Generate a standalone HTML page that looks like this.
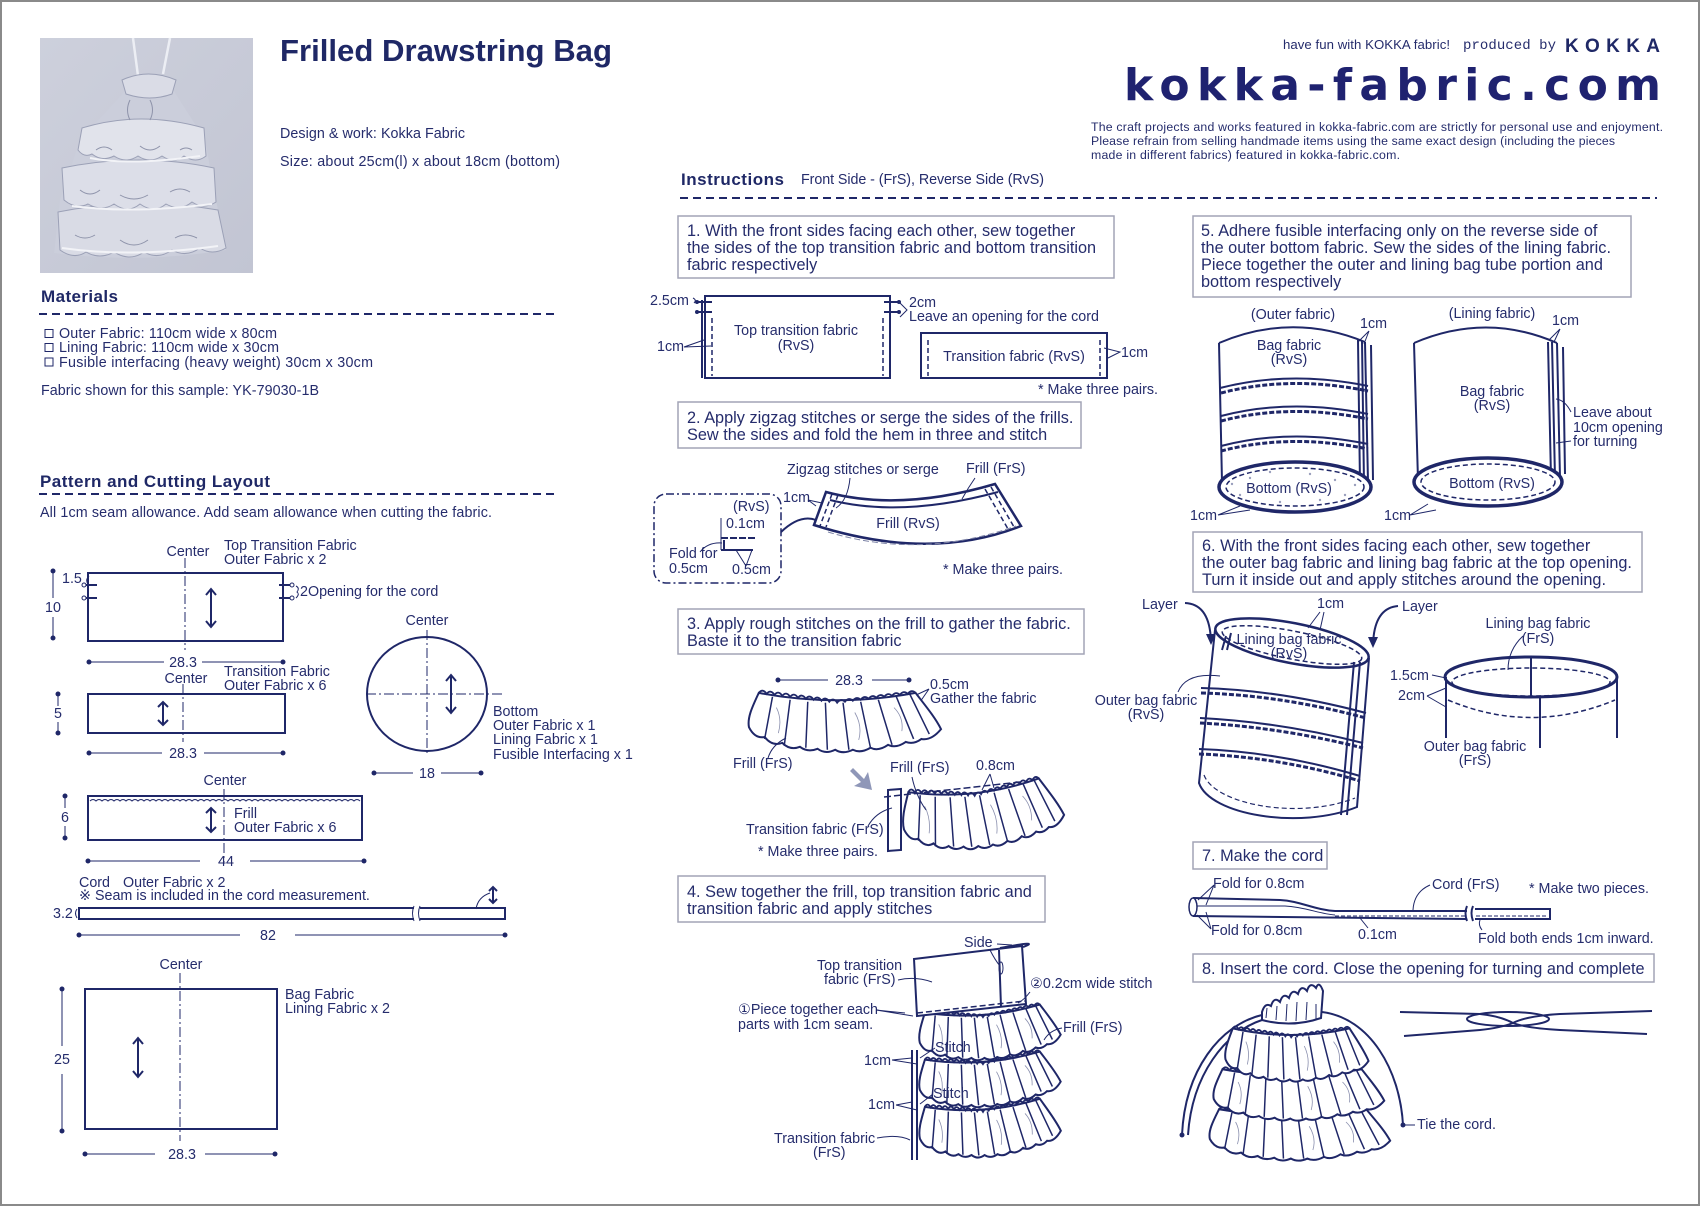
<!DOCTYPE html>
<html><head><meta charset="utf-8"><style>
html,body{margin:0;padding:0;background:#fff}
svg{display:block}
text{font-family:"Liberation Sans","DejaVu Sans","Noto Sans CJK JP",sans-serif;fill:#252c6c;font-size:14.3px}
.b{font-size:16.3px}
.n{fill:none;stroke:#1f2768;stroke-width:2}
.t{fill:none;stroke:#1f2768;stroke-width:1}
.d{fill:none;stroke:#1f2768;stroke-width:1;stroke-dasharray:10 3 2 3}
.bx{fill:none;stroke:#a2a4b6;stroke-width:1.5}
.ds{fill:none;stroke:#1f2768;stroke-width:1.5;stroke-dasharray:5 3}
.dot{fill:#1f2768}
.m{text-anchor:middle}
</style></head><body>
<svg width="1700" height="1206" viewBox="0 0 1700 1206" xmlns="http://www.w3.org/2000/svg">
<defs>
<g id="fr">
<path d="M12,5 Q92,20 172,5 C182,18 192,30 198,42 Q188,54 178,52 Q170,58 162,55 Q152,62 144,58 Q134,65 126,61 Q116,67 108,63 Q98,68 90,63 Q80,68 72,62 Q62,66 54,60 Q44,64 36,56 Q26,60 18,50 Q8,52 2,40 C0,30 6,18 12,5 Z" fill="#fff" stroke="#1f2768" stroke-width="2" vector-effect="non-scaling-stroke"/>
<path d="M12,5 q4,-5 8,1 q4,-5 8,1 q4,-5 8,1 q4,-5 8,1 q4,-5 8,1 q4,-5 8,1 q4,-5 8,1 q4,-5 8,1 q4,-5 8,1 q4,-5 8,1 q4,-5 8,-1 q4,-5 8,-1 q4,-5 8,-1 q4,-5 8,-1 q4,-5 8,-1 q4,-5 8,-1 q4,-5 8,-1 q4,-5 8,-1 q4,-5 8,-1 q4,-5 8,-1" fill="none" stroke="#1f2768" stroke-width="1.8" vector-effect="non-scaling-stroke"/>
<path d="M26,9 L18,52 M44,12 L38,59 M62,14 L60,61 M80,15 L82,63 M98,15 L104,63 M116,14 L126,61 M134,12 L148,58 M152,8 L170,52 M166,6 L186,47" fill="none" stroke="#1f2768" stroke-width="1.5" vector-effect="non-scaling-stroke"/>
<path d="M30,20 q6,12 2,26 M110,25 q8,14 4,28 M150,20 q10,10 8,24" fill="none" stroke="#8a8fae" stroke-width="0.8" vector-effect="non-scaling-stroke"/>
</g>
</defs>
<rect x="1" y="1" width="1698" height="1204" fill="#fff" stroke="#8a8a8a" stroke-width="2"/>

<!-- PHOTO -->
<linearGradient id="pg" x1="0" y1="0" x2="1" y2="1"><stop offset="0" stop-color="#cdd0dc"/><stop offset="1" stop-color="#c2c5d3"/></linearGradient>
<rect x="40" y="38" width="213" height="235" fill="url(#pg)"/>
<path d="M133,38 L138,76 M170,38 L163,74" stroke="#eceef4" stroke-width="2.5" fill="none"/>
<path d="M128,88 L172,88 L205,140 L216,200 L226,250 Q140,264 54,253 L60,200 L80,140 Z" fill="#cbcedb"/>
<path d="M58,212 Q140,196 218,210 L226,248 q-14,8 -26,0 q-14,10 -28,2 q-14,10 -28,2 q-14,10 -30,0 q-14,8 -28,0 q-12,8 -26,-2 Z" fill="#d9dbe5" stroke="#9ba0b6"/>
<path d="M62,168 Q140,152 214,168 L216,202 q-12,8 -24,0 q-12,10 -26,2 q-12,10 -26,0 q-12,10 -26,0 q-12,8 -26,0 q-12,6 -24,-4 Z" fill="#dcdee8" stroke="#9ba0b6"/>
<path d="M82,128 Q140,110 204,128 L206,156 q-10,8 -22,0 q-10,8 -22,0 q-12,8 -24,0 q-12,8 -24,0 q-12,6 -22,-2 q-8,4 -14,-4 Z" fill="#e1e3eb" stroke="#9ba0b6"/>
<path d="M122,80 q26,-12 54,0 L172,94 q-22,8 -46,0 Z" fill="#dadce6" stroke="#9ba0b6"/>
<path d="M96,150 q8,-6 16,0 M140,146 q10,8 20,0 M180,150 q6,-4 12,0 M80,190 q10,8 20,0 M120,195 q14,8 28,0 M170,192 q10,-6 20,0 M75,235 q10,6 20,0 M120,240 q14,10 28,0 M175,238 q10,-6 22,0 M150,100 q5,10 0,20 M130,100 q-5,10 0,20" stroke="#8e93aa" fill="none"/>
<path d="M90,158 q40,8 110,-2 M72,206 q60,8 140,-2 M62,248 q70,10 156,-2" stroke="#f2f3f7" stroke-width="2" fill="none"/>

<!-- HEADER LEFT -->
<text x="280" y="61" style="font-size:31px;font-weight:bold;fill:#1f2866" textLength="332" lengthAdjust="spacingAndGlyphs">Frilled Drawstring Bag</text>
<text x="280" y="138" textLength="185">Design &amp; work: Kokka Fabric</text>
<text x="280" y="166" textLength="280">Size: about 25cm(l) x about 18cm (bottom)</text>

<text x="41" y="302" style="font-size:17px;font-weight:bold;fill:#1f2866" textLength="77">Materials</text>
<line x1="39" y1="314" x2="556" y2="314" stroke="#1f2768" stroke-width="2" stroke-dasharray="8 5"/>
<rect x="45" y="329.5" width="8" height="8" class="t"/>
<rect x="45" y="343.5" width="8" height="8" class="t"/>
<rect x="45" y="358" width="8" height="8" class="t"/>
<text x="59" y="338" textLength="218">Outer Fabric: 110cm wide x 80cm</text>
<text x="59" y="352" textLength="220">Lining Fabric: 110cm wide x 30cm</text>
<text x="59" y="367" textLength="314">Fusible interfacing (heavy weight)  30cm x 30cm</text>
<text x="41" y="395" textLength="278">Fabric shown for this sample: YK-79030-1B</text>

<text x="40" y="487" style="font-size:17px;font-weight:bold;fill:#1f2866" textLength="230">Pattern and Cutting Layout</text>
<line x1="39" y1="494" x2="556" y2="494" stroke="#1f2768" stroke-width="2" stroke-dasharray="8 5"/>
<text x="40" y="517" textLength="452">All 1cm seam allowance. Add seam allowance when cutting the fabric.</text>

<!-- Top transition pattern -->
<text x="188" y="556" class="m">Center</text>
<text x="224" y="550">Top Transition Fabric</text>
<text x="224" y="564">Outer Fabric x 2</text>
<rect x="88" y="573" width="195" height="68" class="n"/>
<line x1="185" y1="558" x2="185" y2="650" class="d"/>
<path d="M211,589 L211,627 M206,595 L211,589 L216,595 M206,621 L211,627 L216,621" class="n"/>
<path d="M53,571 L53,598 M53,617 L53,638" class="t"/><circle cx="53" cy="571" r="2.5" class="dot"/><circle cx="53" cy="638" r="2.5" class="dot"/>
<text x="53" y="612" class="m">10</text>
<text x="62" y="583">1.5</text>
<path d="M84,585 L97,585 M84,598 L97,598 M279,585 L292,585 M279,598 L292,598" class="n" stroke-width="1.5"/>
<circle cx="84" cy="585" r="2" fill="#fff" stroke="#1f2768"/><circle cx="84" cy="598" r="2" fill="#fff" stroke="#1f2768"/>
<circle cx="292" cy="585" r="2" fill="#fff" stroke="#1f2768"/><circle cx="292" cy="598" r="2" fill="#fff" stroke="#1f2768"/>
<path d="M89,576 q-4,4 -1,8 M296,586 q4,2 1,6 q3,2 -1,6" class="t"/>
<text x="300" y="596">2Opening for the cord</text>
<path d="M89,662 L164,662 M202,662 L283,662" class="t"/><circle cx="89" cy="662" r="2.5" class="dot"/><circle cx="283" cy="662" r="2.5" class="dot"/>
<text x="183" y="667" class="m">28.3</text>

<!-- Transition pattern -->
<text x="186" y="683" class="m">Center</text>
<text x="224" y="676">Transition Fabric</text>
<text x="224" y="690">Outer Fabric x 6</text>
<rect x="88" y="694" width="197" height="39" class="n"/>
<line x1="183" y1="684" x2="183" y2="742" class="d"/>
<path d="M163,702 L163,725 M158,707 L163,702 L168,707 M158,720 L163,725 L168,720" class="n"/>
<path d="M58,694 L58,706 M58,722 L58,733" class="t"/><circle cx="58" cy="694" r="2.5" class="dot"/><circle cx="58" cy="733" r="2.5" class="dot"/>
<text x="58" y="718" class="m">5</text>
<path d="M89,753 L162,753 M204,753 L283,753" class="t"/><circle cx="89" cy="753" r="2.5" class="dot"/><circle cx="283" cy="753" r="2.5" class="dot"/>
<text x="183" y="758" class="m">28.3</text>

<!-- Circle -->
<text x="427" y="625" class="m">Center</text>
<ellipse cx="427" cy="694" rx="60" ry="57" class="n"/>
<path d="M366,694 L502,694 M427,630 L427,753" class="d"/>
<path d="M451,675 L451,713 M446,681 L451,675 L456,681 M446,707 L451,713 L456,707" class="n"/>
<text x="493" y="716">Bottom</text>
<text x="493" y="730">Outer Fabric x 1</text>
<text x="493" y="744">Lining Fabric x 1</text>
<text x="493" y="759">Fusible Interfacing x 1</text>
<path d="M374,773 L413,773 M441,773 L481,773" class="t"/><circle cx="374" cy="773" r="2.5" class="dot"/><circle cx="481" cy="773" r="2.5" class="dot"/>
<text x="427" y="778" class="m">18</text>

<!-- Frill pattern -->
<text x="225" y="785" class="m">Center</text>
<rect x="88" y="796" width="274" height="44" class="n"/>
<path d="M90,801 q3,-3 6,0 q3,-3 6,0 q3,-3 6,0 q3,-3 6,0 q3,-3 6,0 q3,-3 6,0 q3,-3 6,0 q3,-3 6,0 q3,-3 6,0 q3,-3 6,0 q3,-3 6,0 q3,-3 6,0 q3,-3 6,0 q3,-3 6,0 q3,-3 6,0 q3,-3 6,0 q3,-3 6,0 q3,-3 6,0 q3,-3 6,0 q3,-3 6,0 q3,-3 6,0 q3,-3 6,0 q3,-3 6,0 q3,-3 6,0 q3,-3 6,0 q3,-3 6,0 q3,-3 6,0 q3,-3 6,0 q3,-3 6,0 q3,-3 6,0 q3,-3 6,0 q3,-3 6,0 q3,-3 6,0 q3,-3 6,0 q3,-3 6,0 q3,-3 6,0 q3,-3 6,0 q3,-3 6,0 q3,-3 6,0 q3,-3 6,0 q3,-3 6,0 q3,-3 6,0 q3,-3 6,0 q3,-3 6,0 q3,-3 6,0" class="t"/>
<line x1="224" y1="789" x2="224" y2="862" class="d"/>
<path d="M211,808 L211,832 M206,813 L211,808 L216,813 M206,827 L211,832 L216,827" class="n"/>
<text x="234" y="818">Frill</text>
<text x="234" y="832">Outer Fabric x 6</text>
<path d="M65,796 L65,808 M65,826 L65,838" class="t"/><circle cx="65" cy="796" r="2.5" class="dot"/><circle cx="65" cy="838" r="2.5" class="dot"/>
<text x="65" y="822" class="m">6</text>
<path d="M88,861 L200,861 M250,861 L364,861" class="t"/><circle cx="88" cy="861" r="2.5" class="dot"/><circle cx="364" cy="861" r="2.5" class="dot"/>
<text x="226" y="866" class="m">44</text>

<!-- Cord pattern -->
<text x="79" y="887">Cord</text><text x="123" y="887">Outer Fabric x 2</text>
<text x="79" y="900">※ Seam is included in the cord measurement.</text>
<path d="M414,908 L79,908 L79,919 L414,919 M420,908 L505,908 L505,919 L420,919" class="n"/>
<path d="M414,906 q-3,7 0,15 M420,906 q-3,7 0,15" class="t"/>
<text x="53" y="918">3.2</text>
<path d="M77,909 q-3,4 0,9" class="t"/>
<path d="M493,887 L493,903 M489,891 L493,887 L497,891 M489,899 L493,903 L497,899" class="n"/>
<path d="M476,909 Q478,897 490,893" class="t"/>
<path d="M79,935 L240,935 M295,935 L505,935" class="t"/><circle cx="79" cy="935" r="2.5" class="dot"/><circle cx="505" cy="935" r="2.5" class="dot"/>
<text x="268" y="940" class="m">82</text>

<!-- Bag pattern -->
<text x="181" y="969" class="m">Center</text>
<rect x="85" y="989" width="192" height="140" class="n"/>
<line x1="180" y1="973" x2="180" y2="1141" class="d"/>
<text x="285" y="999">Bag Fabric</text>
<text x="285" y="1013">Lining Fabric x 2</text>
<path d="M138,1038 L138,1077 M133,1044 L138,1038 L143,1044 M133,1071 L138,1077 L143,1071" class="n"/>
<path d="M62,989 L62,1046 M62,1074 L62,1131" class="t"/><circle cx="62" cy="989" r="2.5" class="dot"/><circle cx="62" cy="1131" r="2.5" class="dot"/>
<text x="62" y="1064" class="m">25</text>
<path d="M85,1154 L155,1154 M205,1154 L275,1154" class="t"/><circle cx="85" cy="1154" r="2.5" class="dot"/><circle cx="275" cy="1154" r="2.5" class="dot"/>
<text x="182" y="1159" class="m">28.3</text>

<!-- HEADER RIGHT -->
<text x="1283" y="49" style="font-size:13.2px" textLength="167">have fun with KOKKA fabric!</text>
<text x="1463" y="49" style="font-family:'Liberation Mono',monospace;font-size:14px" textLength="93">produced by</text>
<text x="1565" y="52" style="font-size:19px;font-weight:bold;fill:#1f2866" textLength="95" lengthAdjust="spacing">KOKKA</text>
<text x="1124" y="100" style="font-family:'DejaVu Sans',sans-serif;font-size:44px;font-weight:bold;fill:#1f2270" textLength="537" lengthAdjust="spacing">kokka-fabric.com</text>
<text x="1091" y="131" style="font-size:12.3px" textLength="572">The craft projects and works featured in kokka-fabric.com are strictly for personal use and enjoyment.</text>
<text x="1091" y="145" style="font-size:12.3px" textLength="524">Please refrain from selling handmade items using the same exact design (including the pieces</text>
<text x="1091" y="159" style="font-size:12.3px" textLength="309">made in different fabrics) featured in kokka-fabric.com.</text>

<text x="681" y="185" style="font-size:17px;font-weight:bold;fill:#1f2866" textLength="103">Instructions</text>
<text x="801" y="184" textLength="243">Front Side - (FrS), Reverse Side (RvS)</text>
<line x1="680" y1="198" x2="1657" y2="198" stroke="#1f2768" stroke-width="2" stroke-dasharray="8 5"/>

<!-- STEP 1 -->
<rect x="678" y="216" width="436" height="62" class="bx"/>
<text x="687" y="236" class="b">1. With the front sides facing each other, sew together</text>
<text x="687" y="253" class="b">the sides of the top transition fabric and bottom transition</text>
<text x="687" y="270" class="b">fabric respectively</text>
<rect x="705" y="296" width="185" height="82" class="n" stroke-width="2.5"/>
<path d="M705,296 L890,296" class="n" stroke-width="4"/>
<path d="M702,300 L702,378" class="n" stroke-width="1.5"/>
<path d="M712,318 L712,376 M883,318 L883,376" class="ds"/>
<path d="M697,302 L712,302 M697,312 L712,312 M884,302 L899,302 M884,312 L899,312" class="n" stroke-width="1.5"/>
<circle cx="697" cy="302" r="2" class="dot"/><circle cx="697" cy="312" r="2" class="dot"/><circle cx="899" cy="302" r="2" class="dot"/><circle cx="899" cy="312" r="2" class="dot"/>
<text x="650" y="305">2.5cm</text>
<path d="M693,298 q4,2 1,5" class="t"/>
<text x="657" y="351">1cm</text>
<path d="M684,347 L704,340 M684,347 L711,346" class="t"/>
<text x="909" y="307">2cm</text>
<text x="909" y="321">Leave an opening for the cord</text>
<path d="M900,303 L907,310 L900,317" class="t"/>
<text x="796" y="335" class="m">Top transition fabric</text>
<text x="796" y="350" class="m">(RvS)</text>
<rect x="921" y="333" width="186" height="45" class="n" stroke-width="2.5"/>
<path d="M921,333 L1107,333" class="n" stroke-width="4"/>
<path d="M928,340 L928,376 M1100,340 L1100,376" class="ds"/>
<text x="1014" y="361" class="m">Transition fabric (RvS)</text>
<text x="1121" y="357">1cm</text>
<path d="M1104,348 L1120,352 L1108,358" class="t"/>
<text x="1038" y="394">* Make three pairs.</text>

<!-- STEP 2 -->
<rect x="678" y="402" width="403" height="46" class="bx"/>
<text x="687" y="423" class="b">2. Apply zigzag stitches or serge the sides of the frills.</text>
<text x="687" y="440" class="b">Sew the sides and fold the hem in three and stitch</text>
<text x="787" y="474">Zigzag stitches or serge</text>
<text x="966" y="473">Frill (FrS)</text>
<text x="783" y="502">1cm</text>
<path d="M826,492 Q900,512 995,484 L1021,526 Q930,562 814,525 Z" fill="#fff" stroke="#1f2768" stroke-width="2.5"/>
<path d="M830,500 Q902,518 998,492" class="n" stroke-width="1.5"/>
<path d="M832,494 L820,526 M838,495 L826,527" class="ds" stroke-width="2"/>
<path d="M991,487 L1014,527 M985,489 L1008,529" class="ds" stroke-width="2"/>
<path d="M828,532 Q920,560 1016,526" fill="none" stroke="#7d83a6" stroke-width="1" stroke-dasharray="6 3"/>
<path d="M850,478 Q848,500 836,508" class="t"/>
<path d="M975,478 Q968,488 962,499" class="t"/>
<path d="M808,500 L822,503 M808,500 L816,506" class="t"/>
<text x="908" y="528" class="m">Frill (RvS)</text>
<rect x="654" y="494" width="127" height="89" rx="12" fill="none" stroke="#1f2768" stroke-width="1.5" stroke-dasharray="8 3 2 3"/>
<path d="M781,532 Q800,514 816,520" class="n" stroke-width="1.5"/>
<text x="733" y="511">(RvS)</text>
<text x="726" y="528">0.1cm</text>
<text x="669" y="558">Fold for</text>
<text x="669" y="573">0.5cm</text>
<text x="732" y="574">0.5cm</text>
<path d="M721,518 L721,550" class="t"/>
<path d="M721,538 L757,538" class="n" stroke-width="2.5" stroke-dasharray="7 2"/>
<path d="M721,550 L753,550 M724,540 L724,550" class="n" stroke-width="1.5"/>
<path d="M700,552 Q708,542 722,543 M746,566 L736,550 M746,566 L752,550" class="t"/>
<text x="943" y="574">* Make three pairs.</text>

<!-- STEP 3 -->
<rect x="678" y="609" width="406" height="45" class="bx"/>
<text x="687" y="629" class="b">3. Apply rough stitches on the frill to gather the fabric.</text>
<text x="687" y="646" class="b">Baste it to the transition fabric</text>
<path d="M778,680 L828,680 M872,680 L909,680" class="t"/><circle cx="778" cy="680" r="2.5" class="dot"/><circle cx="909" cy="680" r="2.5" class="dot"/>
<text x="849" y="685" class="m">28.3</text>
<text x="930" y="689">0.5cm</text>
<text x="930" y="703">Gather the fabric</text>
<path d="M929,689 L914,696 M929,689 L920,702" class="t"/>
<use href="#fr" transform="translate(747,688) scale(0.98,0.98)"/>
<text x="733" y="768">Frill (FrS)</text>
<path d="M768,758 Q772,745 786,738" class="t"/>
<path d="M853,768 L864,779 L868,772 L872,790 L854,786 L861,782 L850,771 Z" fill="#8f97b8"/>
<polygon points="888,790 901,789 901,850 888,851" fill="#fff" stroke="#1f2768" stroke-width="2"/>
<use href="#fr" transform="translate(898,788) rotate(-6) scale(0.82,1.05)"/>
<path d="M884,797 L1020,782" fill="none" stroke="#1f2768" stroke-width="1.5" stroke-dasharray="7 3"/>
<text x="890" y="772">Frill (FrS)</text>
<path d="M912,777 Q916,796 926,810" class="t"/>
<text x="976" y="770">0.8cm</text>
<path d="M990,774 L982,790 M990,774 L994,788" class="t"/>
<text x="746" y="834">Transition fabric (FrS)</text>
<path d="M868,826 Q876,812 892,808" class="t"/>
<text x="758" y="856">* Make three pairs.</text>

<!-- STEP 4 -->
<rect x="678" y="876" width="367" height="46" class="bx"/>
<text x="687" y="897" class="b">4. Sew together the frill, top transition fabric and</text>
<text x="687" y="914" class="b">transition fabric and apply stitches</text>
<path d="M912,1050 L912,1160 M917,1050 L917,1160" class="n" stroke-width="1.5"/>
<use href="#fr" transform="translate(916,1103) rotate(-4) scale(0.72,0.9)"/>
<use href="#fr" transform="translate(916,1056) rotate(-4) scale(0.72,0.85)"/>
<use href="#fr" transform="translate(916,1009) rotate(-4) scale(0.72,0.85)"/>
<polygon points="914,959 1022,946 1026,1004 917,1016" fill="#fff" stroke="#1f2768" stroke-width="2"/>
<path d="M1000,948 Q1042,940 1023,947 M999,950 L1001,1007" class="n" stroke-width="1.5"/>
<ellipse cx="1001" cy="968" rx="2" ry="6" class="t"/>
<path d="M917,1013 L1025,1001" fill="none" stroke="#1f2768" stroke-width="1.5" stroke-dasharray="6 3"/>
<text x="964" y="947">Side</text>
<path d="M997,944 L1012,945 M990,950 Q995,960 1000,966" class="t"/>
<text x="817" y="970">Top transition</text>
<text x="824" y="984">fabric (FrS)</text>
<path d="M898,980 Q915,976 932,982" class="t"/>
<text x="1030" y="988">②0.2cm wide stitch</text>
<path d="M1030,992 Q1024,1000 1018,1003" class="t"/>
<text x="738" y="1014">①Piece together each</text>
<text x="738" y="1029">parts with 1cm seam.</text>
<path d="M876,1010 L905,1013 M876,1010 L913,1016" class="t"/>
<text x="1063" y="1032">Frill (FrS)</text>
<path d="M1062,1028 Q1050,1030 1044,1040" class="t"/>
<text x="935" y="1052">Stitch</text>
<path d="M935,1048 L920,1058" class="t"/>
<text x="864" y="1065">1cm</text>
<path d="M892,1060 L912,1058 M892,1060 L917,1064" class="t"/>
<text x="933" y="1098">Stitch</text>
<path d="M933,1094 L920,1104" class="t"/>
<text x="868" y="1109">1cm</text>
<path d="M896,1105 L912,1102 M896,1105 L917,1110" class="t"/>
<text x="774" y="1143">Transition fabric</text>
<text x="813" y="1157">(FrS)</text>
<path d="M877,1138 Q898,1134 910,1140" class="t"/>

<!-- STEP 5 -->
<rect x="1193" y="216" width="438" height="81" class="bx"/>
<text x="1201" y="236" class="b">5. Adhere fusible interfacing only on the reverse side of</text>
<text x="1201" y="253" class="b">the outer bottom fabric. Sew the sides of the lining fabric.</text>
<text x="1201" y="270" class="b">Piece together the outer and lining bag tube portion and</text>
<text x="1201" y="287" class="b">bottom respectively</text>

<text x="1293" y="319" class="m">(Outer fabric)</text>
<text x="1360" y="328">1cm</text>
<path d="M1369,331 L1358,342 M1369,331 L1364,344" class="t"/>
<path d="M1219,343 Q1292,312 1365,342 M1219,343 L1222,482 M1365,342 L1368,482" class="n" stroke-width="2.5"/>
<path d="M1358,340 L1360,484 M1362,341 L1364,484 M1371,345 L1373,480" class="n" stroke-width="1.5"/>
<path d="M1220,388 Q1290,370 1368,386 M1221,416 Q1290,398 1368,414 M1221,446 Q1290,428 1368,444" class="n" stroke-width="2.5"/>
<path d="M1221,393 Q1290,375 1368,391 M1221,421 Q1290,403 1368,419 M1221,451 Q1290,433 1368,449" fill="none" stroke="#1f2768" stroke-width="3" stroke-dasharray="5 2"/>
<ellipse cx="1295" cy="487" rx="76" ry="25" fill="#fff" stroke="#1f2768" stroke-width="3.5"/>
<ellipse cx="1295" cy="487" rx="69" ry="19" class="ds"/>
<g fill="#9a9fbc"><circle cx="1250" cy="478" r="1.2"/><circle cx="1270" cy="472" r="1.2"/><circle cx="1310" cy="474" r="1.2"/><circle cx="1335" cy="480" r="1.2"/><circle cx="1345" cy="495" r="1.2"/><circle cx="1240" cy="495" r="1.2"/><circle cx="1280" cy="502" r="1.2"/><circle cx="1320" cy="500" r="1.2"/><circle cx="1355" cy="485" r="1.2"/><circle cx="1232" cy="484" r="1.2"/></g>
<text x="1289" y="350" class="m">Bag fabric</text>
<text x="1289" y="364" class="m">(RvS)</text>
<text x="1289" y="493" class="m">Bottom (RvS)</text>
<text x="1190" y="520">1cm</text>
<path d="M1218,515 L1240,506 M1218,515 L1250,510" class="t"/>

<text x="1492" y="318" class="m">(Lining fabric)</text>
<text x="1552" y="325">1cm</text>
<path d="M1560,329 L1549,340 M1560,329 L1554,342" class="t"/>
<path d="M1414,343 Q1486,312 1557,343 M1414,343 L1418,480 M1557,343 L1560,478" class="n" stroke-width="2.5"/>
<path d="M1548,342 L1551,478 M1552,342 L1555,478 M1563,347 L1565,474" class="n" stroke-width="1.5"/>
<ellipse cx="1488" cy="482" rx="74" ry="24" fill="#fff" stroke="#1f2768" stroke-width="3.5"/>
<ellipse cx="1488" cy="482" rx="67" ry="18" class="ds"/>
<text x="1492" y="396" class="m">Bag fabric</text>
<text x="1492" y="410" class="m">(RvS)</text>
<text x="1492" y="488" class="m">Bottom (RvS)</text>
<text x="1573" y="417">Leave about</text>
<text x="1573" y="432">10cm opening</text>
<text x="1573" y="446">for turning</text>
<path d="M1571,412 Q1565,400 1556,399 M1571,441 L1556,443" class="t"/>
<text x="1384" y="520">1cm</text>
<path d="M1410,515 L1428,504 M1410,515 L1436,510" class="t"/>

<!-- STEP 6 -->
<rect x="1193" y="532" width="449" height="60" class="bx"/>
<text x="1202" y="551" class="b">6. With the front sides facing each other, sew together</text>
<text x="1202" y="568" class="b">the outer bag fabric and lining bag fabric at the top opening.</text>
<text x="1202" y="585" class="b">Turn it inside out and apply stitches around the opening.</text>
<text x="1142" y="609">Layer</text>
<text x="1317" y="608">1cm</text>
<text x="1402" y="611">Layer</text>
<path d="M1185,603 Q1210,604 1211,642" class="n" stroke-width="2"/>
<path d="M1206,634 L1211,645 L1216,634 Z" class="dot"/>
<path d="M1398,606 Q1374,608 1373,645" class="n" stroke-width="2"/>
<path d="M1368,637 L1373,648 L1378,637 Z" class="dot"/>
<path d="M1215,630 L1199,783 C1210,815 1300,830 1357,807 L1369,658" fill="#fff" stroke="#1f2768" stroke-width="2"/>
<ellipse cx="1292" cy="643" rx="78" ry="20" transform="rotate(11 1292 643)" fill="#fff" stroke="#1f2768" stroke-width="2.5"/>
<ellipse cx="1292" cy="645" rx="71" ry="14" transform="rotate(11 1292 645)" class="ds" stroke-width="1.2"/>
<path d="M1204,775 C1215,805 1300,820 1355,798" fill="none" stroke="#1f2768" stroke-width="1.2" stroke-dasharray="5 3"/>
<path d="M1201,688 Q1280,690 1366,713 M1200,718 Q1280,722 1363,743 M1199,749 Q1280,752 1360,776" class="n" stroke-width="2.5"/>
<path d="M1201,693 Q1280,695 1366,718 M1200,723 Q1280,727 1363,748 M1199,754 Q1280,757 1360,781" fill="none" stroke="#1f2768" stroke-width="3" stroke-dasharray="5 2"/>
<path d="M1354,662 L1341,815 M1360,662 L1347,815" class="n" stroke-width="1.5"/>
<path d="M1226,636 L1222,650 M1231,633 L1227,650" class="n" stroke-width="1.5"/>
<path d="M1320,612 L1308,628 M1324,612 L1320,630" class="t"/>
<text x="1289" y="644" class="m">Lining bag fabric</text>
<text x="1289" y="658" class="m">(RvS)</text>
<text x="1146" y="705" class="m">Outer bag fabric</text>
<text x="1146" y="719" class="m">(RvS)</text>
<path d="M1178,692 Q1186,672 1220,676" class="t"/>

<ellipse cx="1531" cy="677" rx="86" ry="20" fill="none" stroke="#1f2768" stroke-width="3"/>
<ellipse cx="1531" cy="682" rx="79" ry="14" class="ds"/>
<path d="M1448,700 Q1531,735 1615,700" class="ds"/>
<path d="M1446,677 L1446,738 M1617,677 L1617,738" class="n"/>
<path d="M1531,657 L1531,697" class="n" stroke-width="2.5"/>
<path d="M1540,697 L1540,748" class="n"/>
<text x="1538" y="628" class="m">Lining bag fabric</text>
<text x="1538" y="643" class="m">(FrS)</text>
<path d="M1523,636 Q1508,650 1508,670" class="t"/>
<text x="1390" y="680">1.5cm</text>
<text x="1398" y="700">2cm</text>
<path d="M1432,675 L1446,678 M1427,696 L1446,688 M1427,696 L1446,707" class="t"/>
<text x="1475" y="751" class="m">Outer bag fabric</text>
<text x="1475" y="765" class="m">(FrS)</text>

<!-- STEP 7 -->
<rect x="1193" y="842" width="134" height="27" class="bx"/>
<text x="1202" y="861" class="b">7. Make the cord</text>
<text x="1213" y="888">Fold for 0.8cm</text>
<text x="1432" y="889">Cord (FrS)</text>
<text x="1529" y="893">* Make two pieces.</text>
<path d="M1193,898 L1280,900 C1300,901 1315,910 1335,911 L1467,911 M1193,916 L1467,919" class="n"/>
<path d="M1197,906 L1285,906 C1305,907 1320,914 1335,915" class="t"/>
<ellipse cx="1193" cy="907" rx="4" ry="9" fill="#fff" stroke="#1f2768" stroke-width="1.5"/>
<path d="M1335,916 L1465,916" fill="none" stroke="#1f2768" stroke-width="1" stroke-dasharray="4 2"/>
<path d="M1467,906 q-3,7 0,15 M1473,906 q-3,7 0,15" class="n" stroke-width="1.5"/>
<path d="M1475,909 L1550,909 M1475,919 L1550,919" class="n"/>
<path d="M1550,908 L1550,920" class="n" stroke-width="3"/>
<path d="M1476,916 L1548,916" fill="none" stroke="#1f2768" stroke-width="1" stroke-dasharray="4 2"/>
<path d="M1214,885 L1198,900 M1214,885 L1206,905" class="t"/>
<text x="1211" y="935">Fold for 0.8cm</text>
<path d="M1211,929 L1197,915 M1211,929 L1206,912" class="t"/>
<text x="1358" y="939">0.1cm</text>
<path d="M1368,928 L1360,918" class="t"/>
<path d="M1430,885 Q1414,892 1413,910" class="t"/>
<text x="1478" y="943">Fold both ends 1cm inward.</text>
<path d="M1482,930 Q1478,925 1480,920" class="t"/>

<!-- STEP 8 -->
<rect x="1193" y="954" width="461" height="28" class="bx"/>
<text x="1202" y="974" class="b">8. Insert the cord. Close the opening for turning and complete</text>
<path d="M1262,1015 C1220,1025 1185,1070 1182,1135 M1262,1020 C1225,1032 1192,1075 1188,1135" class="n" stroke-width="2.5"/>
<path d="M1322,1012 C1370,1018 1400,1070 1403,1125" class="n" stroke-width="2.5"/>
<use href="#fr" transform="translate(1208,1105) scale(0.92,0.85)"/>
<use href="#fr" transform="translate(1212,1065) scale(0.87,0.85)"/>
<use href="#fr" transform="translate(1224,1024) scale(0.73,0.88)"/>
<path d="M1262,1012 q3,-10 9,-6 q3,-10 9,-4 q3,-10 9,-4 q3,-10 9,-4 q3,-10 9,-3 q3,-10 9,-3 q3,-8 7,3 L1321,1018 Q1292,1028 1262,1020 Z" fill="#fff" stroke="#1f2768" stroke-width="2"/>
<path d="M1266,1018 L1267,1008 M1276,1020 L1277,1006 M1286,1021 L1287,1004 M1296,1021 L1297,1002 M1306,1020 L1307,1002 M1316,1019 L1316,1004" class="t"/>
<circle cx="1182" cy="1135" r="2.5" class="dot"/><circle cx="1403" cy="1125" r="2.5" class="dot"/>
<text x="1417" y="1129">Tie the cord.</text>
<path d="M1405,1125 L1415,1125" class="t"/>
<path d="M1400,1012 L1480,1014 Q1500,1016 1513,1023 Q1526,1016 1560,1014 L1652,1011" class="n" stroke-width="3"/>
<path d="M1404,1036 L1480,1030 Q1500,1028 1513,1023 Q1526,1028 1560,1030 L1647,1034" class="n" stroke-width="3"/>
<ellipse cx="1508" cy="1019" rx="41" ry="7" class="n" stroke-width="2.5"/>
</svg>
</body></html>
